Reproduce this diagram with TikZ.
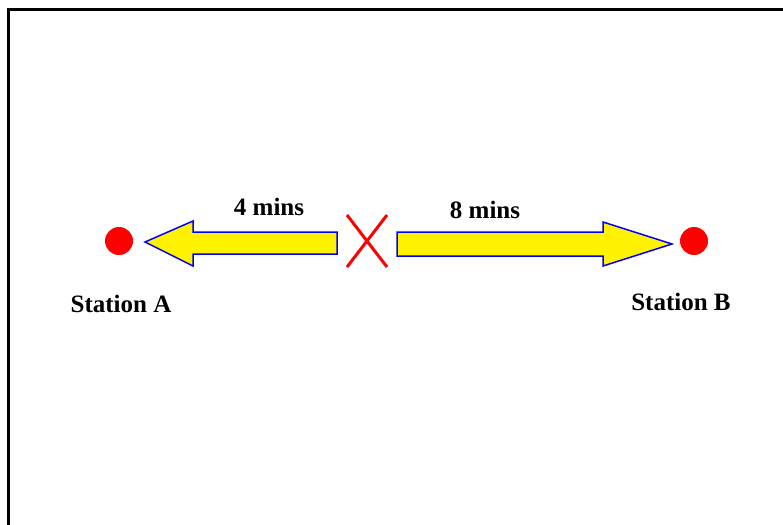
\documentclass[tikz,border=0pt]{standalone}
\usepackage{fontspec}
\setmainfont{Liberation Serif}
\usepackage{tikz}
\usetikzlibrary{positioning}
\tikzset{station node/.style={circle,fill=red,minimum size=28pt,inner sep=0pt},
         label node/.style={font=\fontsize{25}{29}\selectfont\bfseries,anchor=base,inner sep=0pt},
         time arrow/.style={fill=yellow,draw=blue,line width=1.5pt,line join=miter}}

\begin{document}
\begin{tikzpicture}[x=1pt,y=-1pt]
            \useasboundingbox (0,0) rectangle (783,524);
            \draw[line width=3.2pt] (8.5,560) -- (8.5,9.5) -- (820,9.5);

            \node[station node] (A) at (119,241) {};
            \node[station node] (B) at (694,241) {};
            \node[label node] (LA) at (121,312) {Station A};
            \node[label node] (LB) at (681,310) {Station B};

            \coordinate (X) at (367,241);
            \draw[red, line width=3pt] (347,215) -- (387,267) (387,215) -- (347,267);

            \path[time arrow] (337,232) -- (193,232) -- (193,221) -- (145,242)
                -- (193,266) -- (193,254) -- (337,254) -- cycle;
            \path[time arrow] (397,232) -- (603,232) -- (603,222) -- (672,244)
                -- (603,266) -- (603,256) -- (397,256) -- cycle;

            \node[label node] (T1) at (269,215) {4 mins};
            \node[label node] (T2) at (485,218) {8 mins};
        \end{tikzpicture}
\end{document}
